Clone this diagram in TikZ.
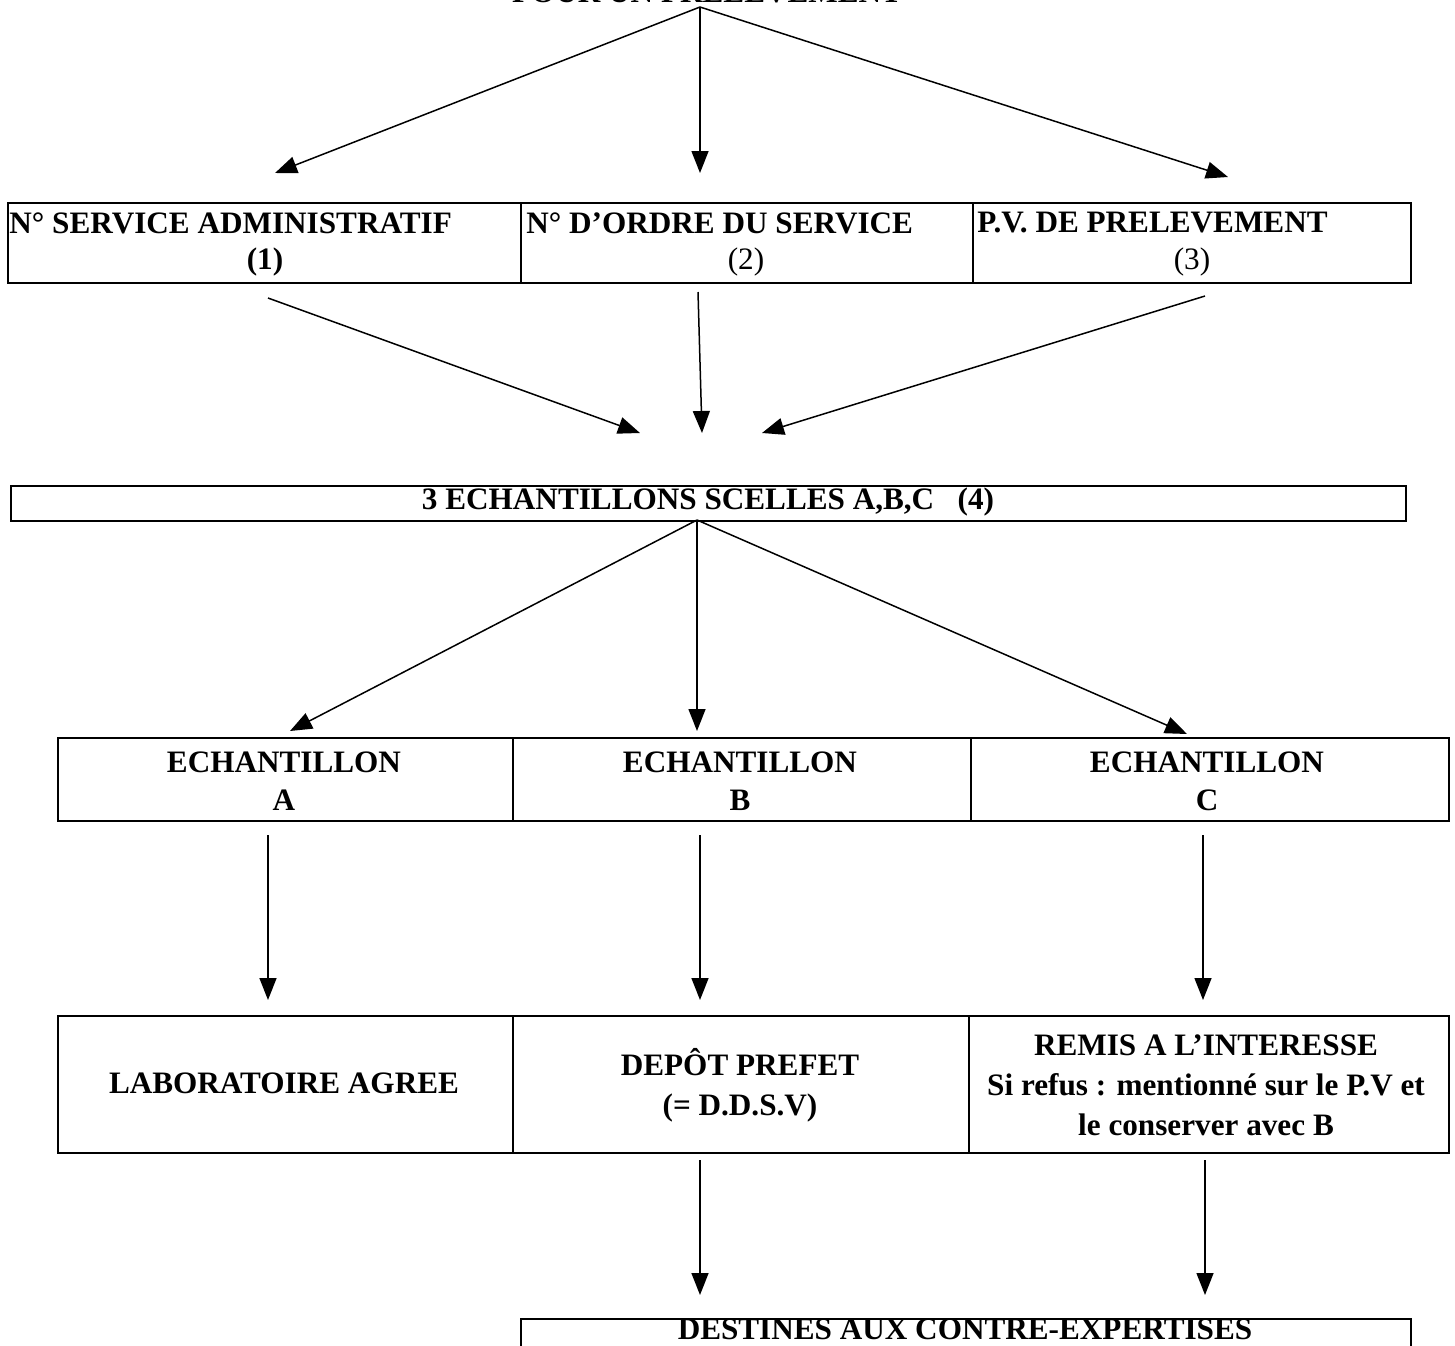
\documentclass[tikz,border=0pt]{standalone}
\usepackage{fontspec}
\setmainfont{Liberation Serif}
\usetikzlibrary{arrows.meta}
\begin{document}
\begin{tikzpicture}[x=0.5pt,y=-0.5pt,
  cell/.style={draw, line width=1.1pt, inner sep=0pt, anchor=north west},
  lbl/.style={font=\fontsize{15.6}{18}\selectfont\bfseries, inner sep=0pt},
  nlbl/.style={font=\fontsize{15.6}{18}\selectfont, inner sep=0pt},
  arr/.style={line width=0.75pt, -{Triangle[length=11pt,width=8.5pt]}}]
\clip (0,0) rectangle (1455,1345);
\useasboundingbox (0,0) rectangle (1455,1345);
% title (cut at top)
\node[lbl, anchor=base] (title) at (707,2) {POUR UN PRELEVEMENT};
\coordinate (o) at (700,7);
% row 1
\node[cell, minimum width=256.5pt, minimum height=40pt] (s1) at (7,202) {};
\node[cell, minimum width=226pt, minimum height=40pt] (s2) at (520,202) {};
\node[cell, minimum width=219pt, minimum height=40pt] (s3) at (972,202) {};
\node[lbl, anchor=west] (t1a) at (9,223) {N° SERVICE ADMINISTRATIF};
\node[lbl] (t1b) at (265,262) {(1)};
\node[lbl, anchor=west] (t2a) at (526,223) {N° D’ORDRE DU SERVICE};
\node[nlbl] (t2b) at (746,262) {(2)};
\node[lbl, anchor=west] (t3a) at (977,223) {P.V. DE PRELEVEMENT};
\node[nlbl] (t3b) at (1192,262) {(3)};
\coordinate (a1) at (275,173);
\coordinate (a2) at (700,173);
\coordinate (a3) at (1228,177);
\draw[arr] (o) -- (a1);
\draw[arr] (o) -- (a2);
\draw[arr] (o) -- (a3);
% arrows row1 -> row2
\coordinate (b1s) at (268,298);
\coordinate (b2s) at (698,292);
\coordinate (b3s) at (1205,296);
\coordinate (b1) at (640,433);
\coordinate (b2) at (702,433);
\coordinate (b3) at (762,433);
\draw[arr] (b1s) -- (b1);
\draw[arr] (b2s) -- (b2);
\draw[arr] (b3s) -- (b3);
% row 2
\node[cell, minimum width=697.5pt, minimum height=17.5pt] (e) at (10,485) {};
\node[lbl] (et) at (708,502) {3 ECHANTILLONS SCELLES A,B,C\ \ \ (4)};
\coordinate (eo) at (697,520);
\coordinate (c1) at (290,731);
\coordinate (c2) at (697,731);
\coordinate (c3) at (1187,734);
\draw[arr] (eo) -- (c1);
\draw[arr] (eo) -- (c2);
\draw[arr] (eo) -- (c3);
% row 3
\node[cell, minimum width=227.5pt, minimum height=41.5pt] (ea) at (57,737) {};
\node[cell, minimum width=229pt, minimum height=41.5pt] (eb) at (512,737) {};
\node[cell, minimum width=239pt, minimum height=41.5pt] (ec) at (970,737) {};
\node[lbl, align=center] (eat) at (284,781) {ECHANTILLON\\[1pt]A};
\node[lbl, align=center] (ebt) at (740,781) {ECHANTILLON\\[1pt]B};
\node[lbl, align=center] (ect) at (1207,781) {ECHANTILLON\\[1pt]C};
\coordinate (d1s) at (268,835);
\coordinate (d2s) at (700,835);
\coordinate (d3s) at (1203,835);
\coordinate (d1) at (268,1000);
\coordinate (d2) at (700,1000);
\coordinate (d3) at (1203,1000);
\draw[arr] (d1s) -- (d1);
\draw[arr] (d2s) -- (d2);
\draw[arr] (d3s) -- (d3);
% row 4
\node[cell, minimum width=227.5pt, minimum height=68.5pt] (la) at (57,1015) {};
\node[cell, minimum width=228pt, minimum height=68.5pt] (pr) at (512,1015) {};
\node[cell, minimum width=240pt, minimum height=68.5pt] (re) at (968,1015) {};
\node[lbl] (lat) at (284,1083) {LABORATOIRE AGREE};
\node[lbl, align=center] (prt) at (740,1085) {DEPÔT PREFET\\[2pt](= D.D.S.V)};
\node[lbl, align=center] (ret) at (1206,1085) {REMIS A L’INTERESSE\\[2pt]Si refus : mentionné sur le P.V et\\[2pt]le conserver avec B};
\coordinate (f1s) at (700,1160);
\coordinate (f2s) at (1205,1160);
\coordinate (f1) at (700,1295);
\coordinate (f2) at (1205,1295);
\draw[arr] (f1s) -- (f1);
\draw[arr] (f2s) -- (f2);
% bottom
\node[cell, minimum width=445pt, minimum height=25pt] (de) at (520,1318) {};
\node[lbl] (det) at (965,1329) {DESTINES AUX CONTRE-EXPERTISES};
\end{tikzpicture}
\end{document}
